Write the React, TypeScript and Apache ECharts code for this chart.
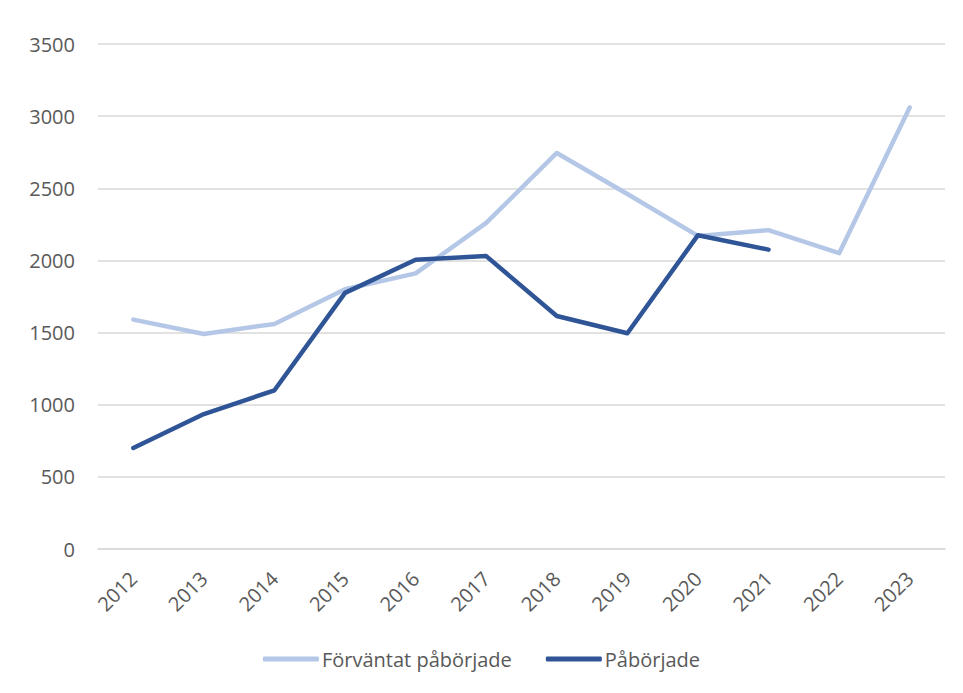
import React, { useEffect, useRef } from "react";
import * as echarts from "echarts";

const years = ["2012", "2013", "2014", "2015", "2016", "2017", "2018", "2019", "2020", "2021", "2022", "2023"];
const expectedStarts = [1590, 1490, 1560, 1800, 1910, 2260, 2745, 2460, 2170, 2210, 2050, 3060];
const actualStarts: (number | null)[] = [700, 935, 1100, 1775, 2005, 2030, 1615, 1495, 2175, 2075, null, null];
const yTicks = [0, 500, 1000, 1500, 2000, 2500, 3000, 3500];

const FONT = "'Open Sans', 'DejaVu Sans', sans-serif";

export default function App() {
  const ref = useRef<HTMLDivElement>(null);
  useEffect(() => {
    if (!ref.current) return;
    const chart = echarts.init(ref.current, null, { renderer: "svg" });
    chart.setOption({
      animation: false,
      backgroundColor: "#ffffff",
      grid: { left: 90, right: 10, top: 36, bottom: 136, containLabel: false },
      legend: {
        bottom: 11,
        left: "center",
        itemWidth: 56,
        itemHeight: 5,
        itemGap: 34,
        icon: "roundRect",
        textStyle: { fontFamily: FONT, fontSize: 20, color: "#595959", padding: [0, 0, 0, -2] },
        data: ["Förväntat påbörjade", "Påbörjade"],
      },
      xAxis: {
        type: "category",
        data: years,
        boundaryGap: true,
        axisLine: { show: true, lineStyle: { color: "#d9d9d9", width: 1.5 } },
        axisTick: { show: false },
        axisLabel: {
          rotate: 45,
          margin: 26,
          fontFamily: FONT,
          fontSize: 20,
          color: "#595959",
        },
      },
      yAxis: {
        type: "value",
        min: yTicks[0],
        max: yTicks[yTicks.length - 1],
        interval: 500,
        axisLine: { show: false },
        axisTick: { show: false },
        axisLabel: {
          margin: 23,
          fontFamily: FONT,
          fontSize: 20,
          color: "#595959",
          formatter: (v: number) => String(v),
        },
        splitLine: { lineStyle: { color: "#d9d9d9", width: 1.5 } },
      },
      series: [
        {
          name: "Förväntat påbörjade",
          type: "line",
          data: expectedStarts,
          symbol: "none",
          lineStyle: { width: 4.5, color: "#b4c7e7", cap: "round", join: "round" },
          itemStyle: { color: "#b4c7e7" },
        },
        {
          name: "Påbörjade",
          type: "line",
          data: actualStarts,
          symbol: "none",
          connectNulls: false,
          lineStyle: { width: 4.5, color: "#2f5597", cap: "round", join: "round" },
          itemStyle: { color: "#2f5597" },
        },
      ],
    });
    return () => chart.dispose();
  }, []);
  return <div ref={ref} style={{ width: 947, height: 677 }} />;
}
